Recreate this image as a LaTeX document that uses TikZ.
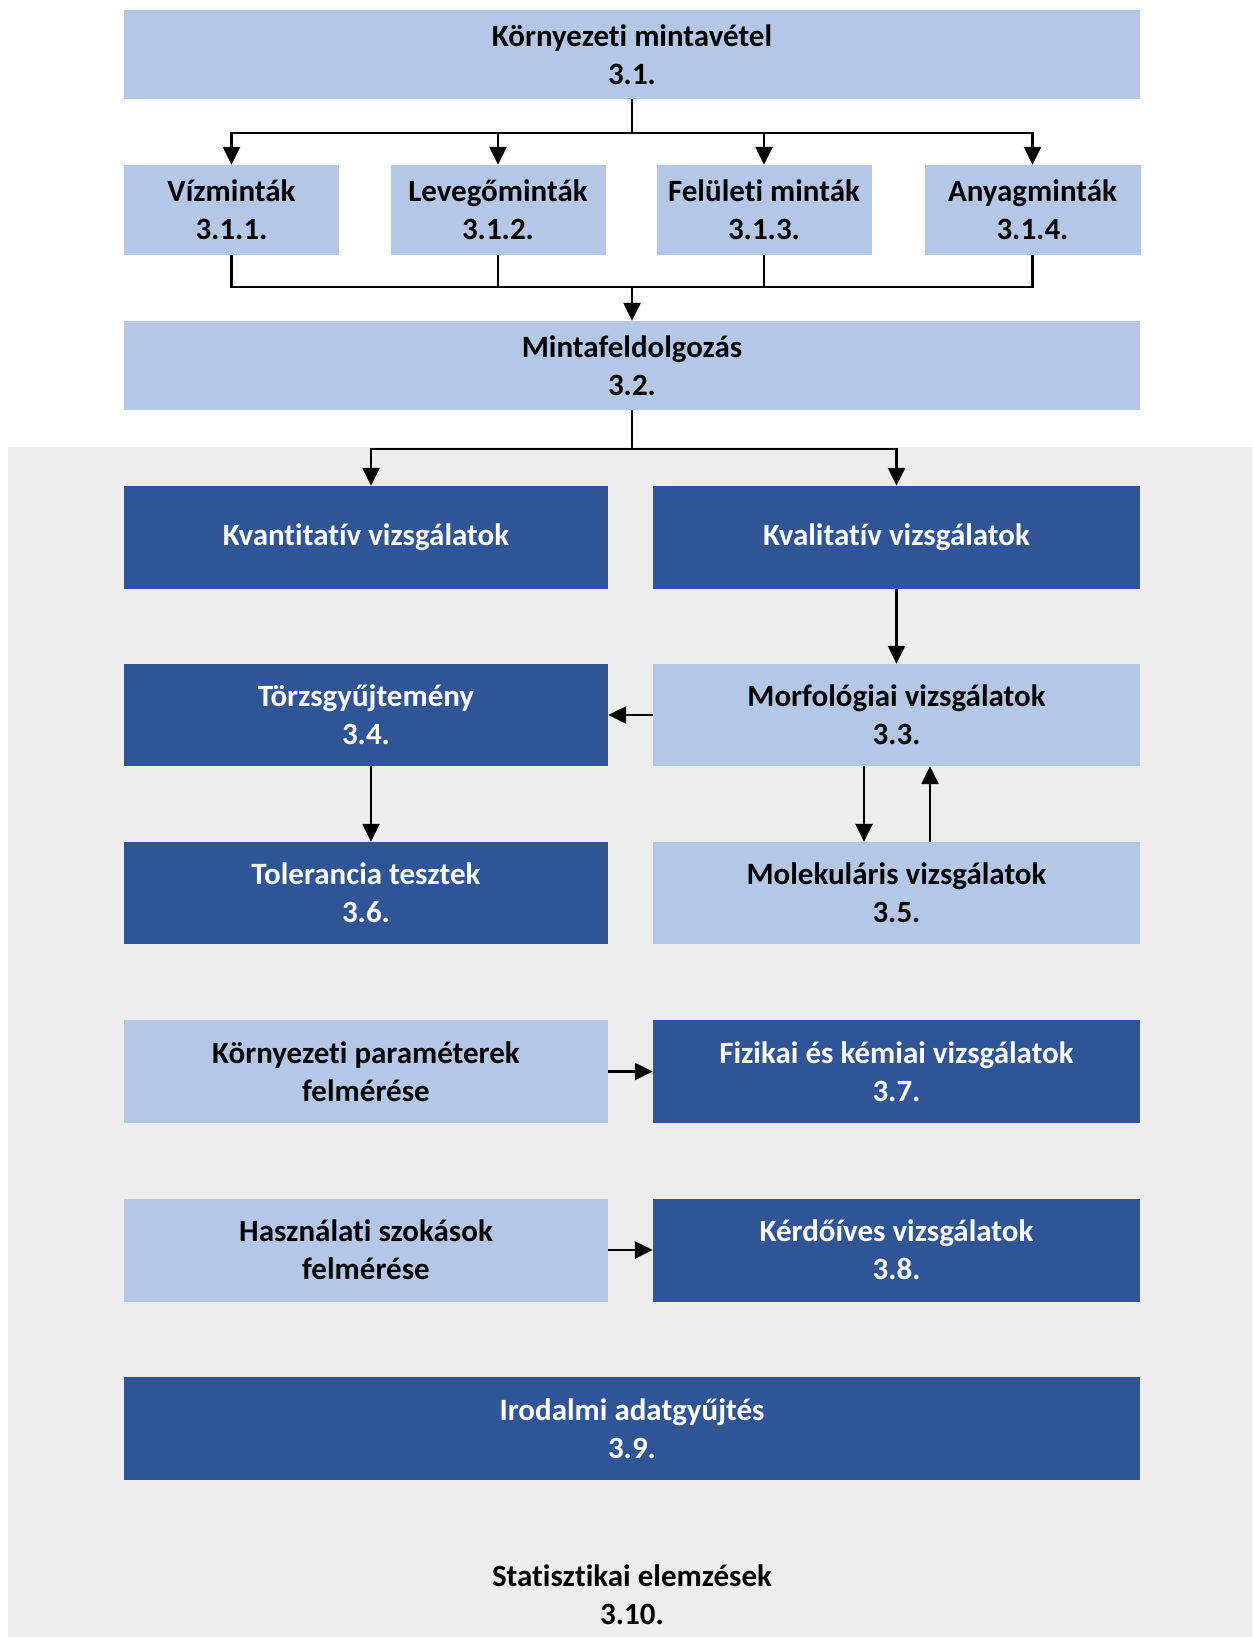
\documentclass[tikz,border=0pt]{standalone}
\usepackage{fontspec}
\setmainfont{Carlito}[RawFeature=-liga]
\usetikzlibrary{arrows.meta}
\definecolor{lightb}{HTML}{B4C7E7}
\definecolor{darkb}{HTML}{2F5597}
\definecolor{greybg}{HTML}{EDEDED}
\tikzset{
  box/.style={rectangle, inner sep=0pt, align=center, font=\fontsize{31}{38}\selectfont\bfseries},
  lbox/.style={box, fill=lightb, text=black},
  dbox/.style={box, fill=darkb, text=white},
  arr/.style={line width=2.5pt, -{Triangle[length=18pt,width=17pt]}},
  ln/.style={line width=2.5pt},
}
\begin{document}
\begin{tikzpicture}[x=1pt,y=-1pt]
\useasboundingbox (0,0) rectangle (1252,1637);
\fill[white] (0,0) rectangle (1252,1637);
\fill[greybg] (8,447) rectangle (1252,1637);
% top level
\node[lbox, minimum width=1016pt, minimum height=89pt] (top) at (632,54.5) {Környezeti mintavétel\\3.1.};
\node[lbox, minimum width=215pt, minimum height=90pt] (s1) at (231.5,210) {Vízminták\\3.1.1.};
\node[lbox, minimum width=215pt, minimum height=90pt] (s2) at (498,210) {Levegőminták\\3.1.2.};
\node[lbox, minimum width=215pt, minimum height=90pt] (s3) at (764,210) {Felületi minták\\3.1.3.};
\node[lbox, minimum width=216pt, minimum height=90pt] (s4) at (1032.5,210) {Anyagminták\\3.1.4.};
\node[lbox, minimum width=1016pt, minimum height=89pt] (mf) at (632,365.5) {Mintafeldolgozás\\3.2.};
% grey region
\node[dbox, minimum width=484pt, minimum height=103pt] (kvant) at (366,537.5) {Kvantitatív vizsgálatok};
\node[dbox, minimum width=487pt, minimum height=103pt] (kval) at (896.5,537.5) {Kvalitatív vizsgálatok};
\node[lbox, minimum width=487pt, minimum height=102pt] (morf) at (896.5,715) {Morfológiai vizsgálatok\\3.3.};
\node[dbox, minimum width=484pt, minimum height=102pt] (torzs) at (366,715) {Törzsgyűjtemény\\3.4.};
\node[dbox, minimum width=484pt, minimum height=102pt] (tol) at (366,893) {Tolerancia tesztek\\3.6.};
\node[lbox, minimum width=487pt, minimum height=102pt] (molek) at (896.5,893) {Molekuláris vizsgálatok\\3.5.};
\node[lbox, minimum width=484pt, minimum height=103pt] (kparam) at (366,1071.5) {Környezeti paraméterek\\felmérése};
\node[dbox, minimum width=487pt, minimum height=103pt] (fiz) at (896.5,1071.5) {Fizikai és kémiai vizsgálatok\\3.7.};
\node[lbox, minimum width=484pt, minimum height=103pt] (hasz) at (366,1250) {Használati szokások\\felmérése};
\node[dbox, minimum width=487pt, minimum height=103pt] (kerd) at (896.5,1250) {Kérdőíves vizsgálatok\\3.8.};
\node[dbox, minimum width=1016pt, minimum height=103pt] (irod) at (632,1428.5) {Irodalmi adatgyűjtés\\3.9.};
\node[box, text=black] (stat) at (632,1595) {Statisztikai elemzések\\3.10.};
% connectors
\coordinate (b1) at (632,133);
\draw[ln] (top.south) -- (b1);
\foreach \n in {s1,s2,s3,s4} \draw[arr] (b1) -| (\n.north);
\coordinate (b2) at (632,287);
\foreach \n in {s1,s2,s3,s4} \draw[ln] (\n.south) |- (b2);
\draw[arr] (b2) -- (mf.north);
\coordinate (b3) at (632,449);
\draw[ln] (mf.south) -- (b3);
\draw[arr] (b3) -| ([xshift=5pt]kvant.north);
\draw[arr] (b3) -| (kval.north);
\draw[arr] (kval.south) -- (morf.north);
\draw[arr] (morf.west) -- (torzs.east);
\draw[arr] ([xshift=5pt]torzs.south) -- ([xshift=5pt]tol.north);
\draw[arr] ([xshift=-32.5pt]morf.south) -- ([xshift=-32.5pt]molek.north);
\draw[arr] ([xshift=33.5pt]molek.north) -- ([xshift=33.5pt]morf.south);
\draw[arr] (kparam.east) -- (fiz.west);
\draw[arr] (hasz.east) -- (kerd.west);
\end{tikzpicture}
\end{document}
